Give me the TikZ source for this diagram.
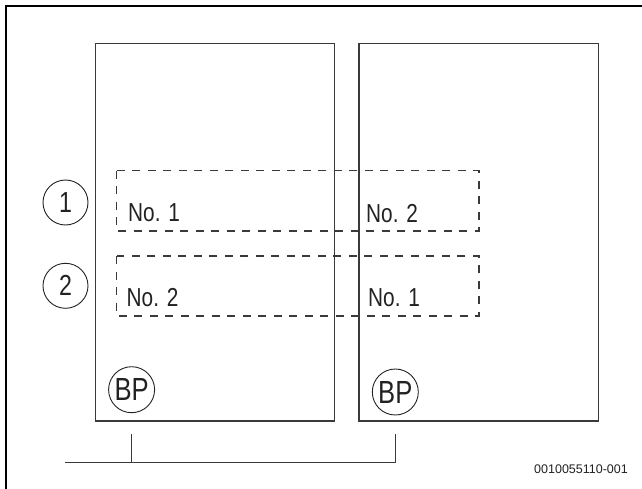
\documentclass[tikz,border=0pt]{standalone}
\usepackage{fontspec}
\setmainfont{Liberation Sans}[FakeStretch=0.8]
\newfontfamily\codefont{Liberation Sans}
\usepackage{tikz}

\definecolor{linegray}{HTML}{3A3A3A}
\definecolor{textgray}{HTML}{222222}

\tikzset{
  unitbox/.style={draw=linegray,line width=1.1pt},
  swapbox/.style={draw=linegray,dashed,dash pattern=on 8pt off 7.5pt,line width=1.4pt},
  posmark/.style={circle,draw=textgray,line width=0.9pt,minimum size=45pt,inner sep=0pt,text=textgray,font=\fontsize{29}{29}\selectfont},
  pumpmark/.style={circle,draw=textgray,line width=0.9pt,minimum size=46pt,inner sep=0pt,text=textgray,font=\fontsize{32}{32}\selectfont},
  nolabel/.style={anchor=base west,inner sep=0pt,text=textgray,font=\fontsize{26}{26}\selectfont}
}

\begin{document}
\begin{tikzpicture}[x=1pt,y=-1pt]
        \useasboundingbox (0,0) rectangle (642,489);
\draw[line width=2.2pt] (6.3,489) -- (6.3,5.7) -- (642,5.7) ; % Frame.0 
\draw[unitbox] (95.3,43.3) rectangle (334.8,421) ; % Unit.left 
\draw[unitbox] (359,43.3) rectangle (598.7,421) ; % Unit.right 
\draw[swapbox] (116.7,170.7) rectangle (479,231) ; % Swap.1 
\draw[swapbox] (116.7,256) rectangle (479,316) ; % Swap.2 
\node[posmark] (pos1) at (65.5,202.5) {1}; % Pos.1 
\node[posmark] (pos2) at (65.5,285.8) {2}; % Pos.2 
\node[nolabel] (ltop) at (128,221) {No. 1}; % Swap.1 
\node[nolabel] (rtop) at (366,222.5) {No. 2}; % Swap.1 
\node[nolabel] (lbot) at (126.5,306.5) {No. 2}; % Swap.2 
\node[nolabel] (rbot) at (368,306.5) {No. 1}; % Swap.2 
\node[pumpmark] (bpl) at (131.6,389.7) {BP}; % Pump.left 
\node[pumpmark] (bpr) at (395.3,392) {BP}; % Pump.right 
\coordinate (tickl) at (131.6,434.3) ; % Pipe.0 
\coordinate (tickr) at (395.6,434.3) ; % Pipe.1 
\coordinate (pipein) at (65.3,462.7) ; % Pipe.2 
\draw[draw=linegray,line width=1.1pt] (tickl) -- (tickl |- pipein) ; % Pipe.0 
\draw[draw=linegray,line width=1.1pt] (pipein) -- (tickr |- pipein) -- (tickr) ; % Pipe.1 
\node[text=textgray,font=\codefont\fontsize{12.5}{12.5}\selectfont] (code) at (581,469.5) {0010055110-001}; % Code.0 

        \end{tikzpicture}
\end{document}
